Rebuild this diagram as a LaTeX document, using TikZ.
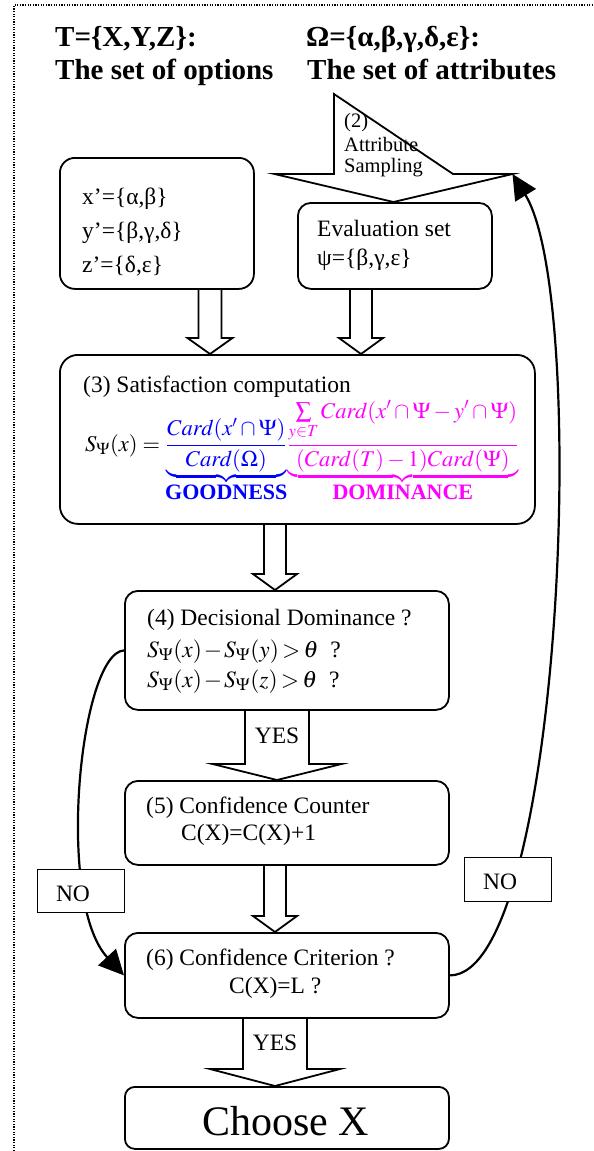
\documentclass[tikz,border=0pt]{standalone}
\usepackage{mathptmx}
\usepackage{fontspec}
\setmainfont{Liberation Serif}
\usetikzlibrary{arrows.meta,calc}
\definecolor{mag}{RGB}{255,0,255}
\definecolor{blu}{RGB}{0,0,255}
\newcommand\blockarrow[6]{%
  \draw[blockarrow] let \p1=(#1), \p2=(#2) in
    (#3pt-#4pt,\y1) -- (#3pt-#4pt,\y2+#6pt) -- (#3pt-#5pt,\y2+#6pt) -- (#3pt,\y2)
    -- (#3pt+#5pt,\y2+#6pt) -- (#3pt+#4pt,\y2+#6pt) -- (#3pt+#4pt,\y1);}
\tikzset{
  box/.style={draw, line width=1.8pt, rounded corners=13pt, inner sep=0pt, anchor=north west},
  nobox/.style={draw, fill=white, line width=1.4pt, inner sep=0pt, anchor=north west},
  txt/.style={inner sep=0pt, anchor=base west, font=\fontsize{23.5}{26}\selectfont},
  ctxt/.style={inner sep=0pt, anchor=base, font=\fontsize{23.5}{26}\selectfont},
  smalltxt/.style={inner sep=0pt, anchor=base west, font=\fontsize{20.5}{23}\selectfont},
  titletxt/.style={inner sep=0pt, anchor=base west, font=\fontsize{29}{32}\selectfont\bfseries},
  blockarrow/.style={line width=1.8pt, line join=miter},
  curve/.style={line width=2.2pt, -{Triangle[length=25pt,width=24pt]}},
  border/.style={line width=1.2pt, dash pattern=on 1.2pt off 1.4pt}
}
\begin{document}
\begin{tikzpicture}[x=1pt,y=-1pt]
\useasboundingbox (0,0) rectangle (594,1151);
% dotted frame
\coordinate (fbl) at (14,1151);
\coordinate (ftl) at (14,5);
\coordinate (ftr) at (594,5);
\draw[border] (fbl) -- (ftl) -- (ftr);

% titles
\node[titletxt] (t1) at (55,46) {T=\{X,Y,Z\}:};
\node[titletxt] (t2) at (55,79) {The set of options};
\node[titletxt] (t3) at (306,46) {Ω=\{α,β,γ,δ,ε\}:};
\node[titletxt] (t4) at (307,79) {The set of attributes};

% boxes
\node[box, rounded corners=15pt, minimum width=194pt, minimum height=131pt] (opts) at (59,157) {};
\node[box, minimum width=194pt, minimum height=86pt] (eval) at (297,202) {};
\node[box, rounded corners=18pt, minimum width=475pt, minimum height=169pt] (sat) at (59,354) {};
\node[box, minimum width=324pt, minimum height=119pt] (dec) at (124,590) {};
\node[box, minimum width=324pt, minimum height=84pt] (conf) at (124,780) {};
\node[box, minimum width=324pt, minimum height=85pt] (crit) at (124,932) {};
\node[box, rounded corners=10pt, minimum width=324pt, minimum height=62pt] (choose) at (124,1086) {};

% attribute sampling arrow
\coordinate (attrtop) at (393.5,94);
\coordinate (wingR) at (512.5,174);
\draw[blockarrow] let \p1=(attrtop), \p2=(eval.north) in
  (334,94) -- (334,174) -- (274.5,174) -- (393.5,\y2) -- (wingR) -- (453,174) -- cycle;
\node[smalltxt] (a2) at (344,127) {(2)};
\node[smalltxt] (a3) at (344,151) {Attribute};
\node[smalltxt] (a4) at (344,172) {Sampling};

% texts in boxes
\node[txt] (o1) at (82,204) {x’=\{α,β\}};
\node[txt] (o2) at (82,238) {y’=\{β,γ,δ\}};
\node[txt] (o3) at (82,272) {z’=\{δ,ε\}};
\node[txt] (e1) at (317,236) {Evaluation set};
\node[txt] (e2) at (317,265) {ψ=\{β,γ,ε\}};
\node[txt] (s1) at (83,392) {(3) Satisfaction computation};
\node[inner sep=0pt, anchor=base west, font=\fontsize{22.5}{26}\selectfont] (formula) at (85,451)
 {$\displaystyle S_{\Psi}(x)={\color{blu}\underbrace{\frac{Card(x'\cap\Psi)}{Card(\Omega)}}_{\mbox{\fontsize{22}{24}\selectfont\bfseries GOODNESS}}}%
 {\color{mag}\underbrace{\frac{\textstyle\sum\limits_{y\in T}Card(x'\cap\Psi-y'\cap\Psi)}{(Card(T)-1)Card(\Psi)}}_{\mbox{\fontsize{22}{24}\selectfont\bfseries DOMINANCE}}}$};
\node[txt] (d1) at (147,625) {(4) Decisional Dominance ?};
\node[txt] (d2) at (147,657) {\medmuskip=1.5mu\thickmuskip=2.5mu$S_{\Psi}(x)-S_{\Psi}(y)>\theta$\ \ ?};
\node[txt] (d3) at (147,687) {\medmuskip=1.5mu\thickmuskip=2.5mu$S_{\Psi}(x)-S_{\Psi}(z)>\theta$\ \ ?};
\node[txt] (c1) at (146,813) {(5) Confidence Counter};
\node[txt] (c2) at (181,840) {C(X)=C(X)+1};
\node[txt] (r1) at (146,965) {(6) Confidence Criterion ?};
\node[txt] (r2) at (229,993) {C(X)=L ?};
\node[inner sep=0pt, anchor=base west, font=\fontsize{42}{46}\selectfont] (ch) at (202,1135) {Choose X};

% block arrows
\blockarrow{opts.south}{sat.north}{210}{11.5}{22.5}{16}
\blockarrow{eval.south}{sat.north}{361}{11}{22}{16}
\blockarrow{sat.south}{dec.north}{275}{11}{22}{16}
\blockarrow{dec.south}{conf.north}{277}{32}{64.5}{16}
\blockarrow{conf.south}{crit.north}{275}{11}{22}{16}
\blockarrow{crit.south}{choose.north}{275}{32}{65}{17}
\node[ctxt] (y1) at (277,743) {YES};
\node[ctxt] (y2) at (275,1050) {YES};

% feedback curves
\draw[curve] (dec.west) .. controls +(-44,2.5) and +(-69,-74.5) .. (crit.west);
\draw[curve] (crit.east) .. controls +(112,0) and +(77.5,126) .. (wingR);
\node[nobox, minimum width=87pt, minimum height=43pt] (no1) at (37,869) {};
\node[nobox, minimum width=87pt, minimum height=44pt] (no2) at (464,857) {};
\node[ctxt] (n1) at (73,901) {NO};
\node[ctxt] (n2) at (500,889) {NO};
\end{tikzpicture}
\end{document}
